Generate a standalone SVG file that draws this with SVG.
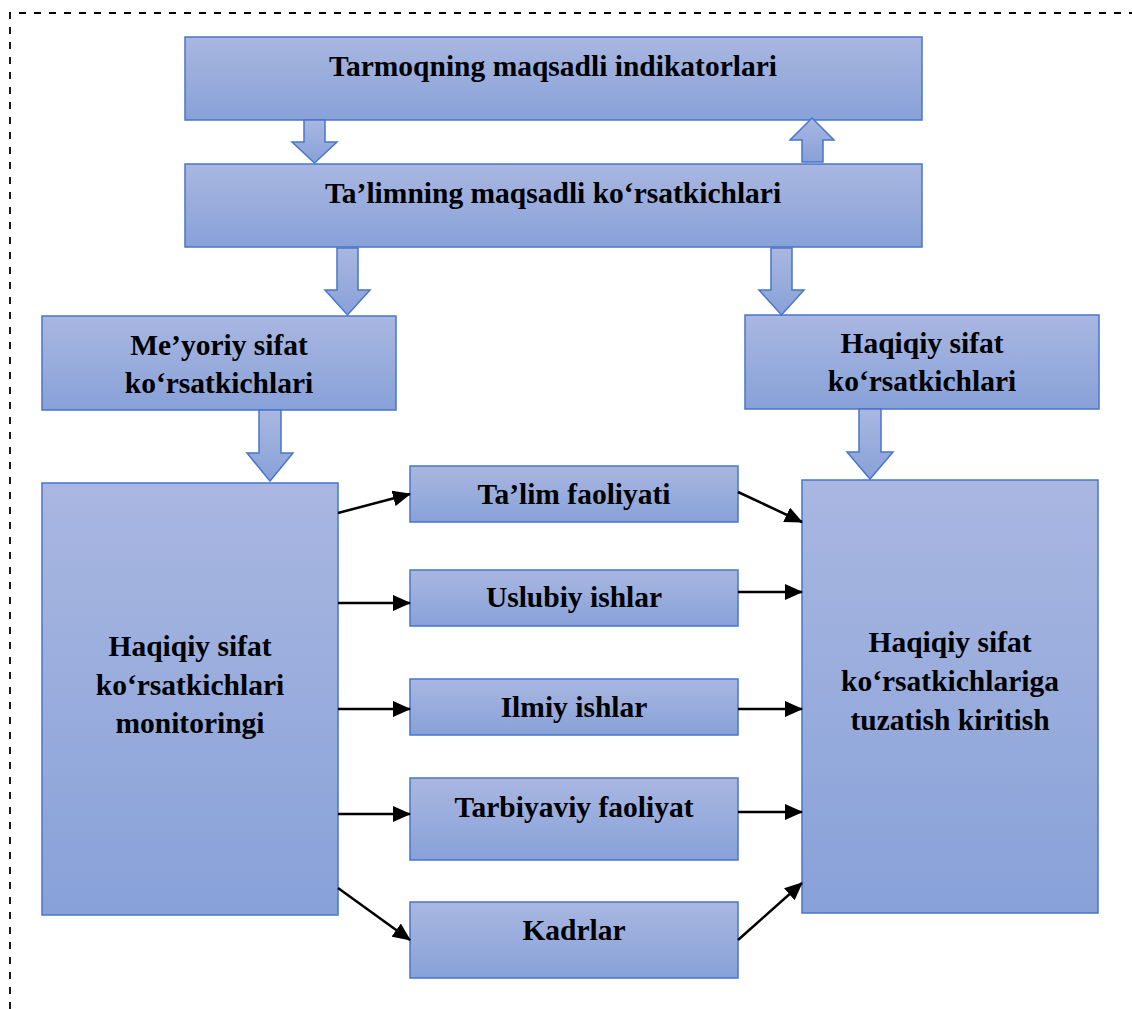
<svg xmlns="http://www.w3.org/2000/svg" width="1132" height="1009" viewBox="0 0 1132 1009">
<defs>
<linearGradient id="g" x1="0" y1="0" x2="0" y2="1">
<stop offset="0" stop-color="#a9b7e1"/>
<stop offset="1" stop-color="#88a1d8"/>
</linearGradient>
<marker id="ah" markerUnits="userSpaceOnUse" markerWidth="18" markerHeight="16" refX="17" refY="8" orient="auto">
<path d="M0,0 L18,8 L0,16 z" fill="#000"/>
</marker>
</defs>
<style>
.box{fill:url(#g);stroke:#4a76c8;stroke-width:1.5}
.blk{fill:url(#g);stroke:#4a76c8;stroke-width:1.5;stroke-linejoin:miter}
text{font-family:"Liberation Serif","Times New Roman",serif;font-weight:bold;font-size:29.5px;fill:#000;text-anchor:middle}
.c{stroke:#000;stroke-width:2.5;fill:none;marker-end:url(#ah)}
.frame{stroke:#000;stroke-width:1.8;fill:none;stroke-dasharray:7 8}
</style>
<path class="frame" d="M10,1009 L10,13 L1132,13"/>
<g id="n1"><rect class="box" x="185" y="37" width="737" height="83"/><text x="553" y="76">Tarmoqning maqsadli indikatorlari</text></g>
<g id="n2"><rect class="box" x="185" y="164" width="737" height="83"/><text x="553" y="203">Ta’limning maqsadli ko‘rsatkichlari</text></g>
<g id="n3"><rect class="box" x="42" y="316" width="354" height="94"/><text x="219" y="355">Me’yoriy sifat</text><text x="219" y="393">ko‘rsatkichlari</text></g>
<g id="n4"><rect class="box" x="745" y="315" width="354" height="94"/><text x="922" y="353">Haqiqiy sifat</text><text x="922" y="391">ko‘rsatkichlari</text></g>
<g id="n5"><rect class="box" x="42" y="483" width="296" height="432"/><text x="190" y="656">Haqiqiy sifat</text><text x="190" y="695">ko‘rsatkichlari</text><text x="190" y="733">monitoringi</text></g>
<g id="n6"><rect class="box" x="802" y="480" width="296" height="433"/><text x="950" y="652">Haqiqiy sifat</text><text x="950" y="691">ko‘rsatkichlariga</text><text x="950" y="730">tuzatish kiritish</text></g>
<g id="n7"><rect class="box" x="410" y="466" width="328" height="56"/><text x="574" y="504">Ta’lim faoliyati</text></g>
<g id="n8"><rect class="box" x="410" y="570" width="328" height="56"/><text x="574" y="607">Uslubiy ishlar</text></g>
<g id="n9"><rect class="box" x="410" y="679" width="328" height="56"/><text x="574" y="717">Ilmiy ishlar</text></g>
<g id="n10"><rect class="box" x="410" y="778" width="328" height="82"/><text x="574" y="817">Tarbiyaviy faoliyat</text></g>
<g id="n11"><rect class="box" x="410" y="902" width="328" height="76"/><text x="574" y="940">Kadrlar</text></g>
<g id="connectors">
<path class="blk" d="M304,120 L325,120 L325,142 L337,142 L314.5,163 L292,142 L304,142 z"/>
<path class="blk" d="M802,162 L823,162 L823,140 L834,140 L812,118 L790,140 L802,140 z"/>
<path class="blk" d="M337,248 L358,248 L358,290 L370,290 L347.5,315 L325,290 L337,290 z"/>
<path class="blk" d="M771,248 L792,248 L792,290 L804,290 L781.5,315 L759,290 L771,290 z"/>
<path class="blk" d="M259,410 L281,410 L281,453 L293,453 L270,481 L247,453 L259,453 z"/>
<path class="blk" d="M859,409 L881,409 L881,452 L893,452 L870,479 L847,452 L859,452 z"/>
<path class="c" d="M338,513 L410,494"/>
<path class="c" d="M338,603 L410,603"/>
<path class="c" d="M338,709 L410,709"/>
<path class="c" d="M338,814 L410,814"/>
<path class="c" d="M338,888 L410,940"/>
<path class="c" d="M738,492 L802,522"/>
<path class="c" d="M738,592 L802,592"/>
<path class="c" d="M738,709 L802,709"/>
<path class="c" d="M738,812 L802,812"/>
<path class="c" d="M738,940 L802,883"/>
</g>
</svg>
